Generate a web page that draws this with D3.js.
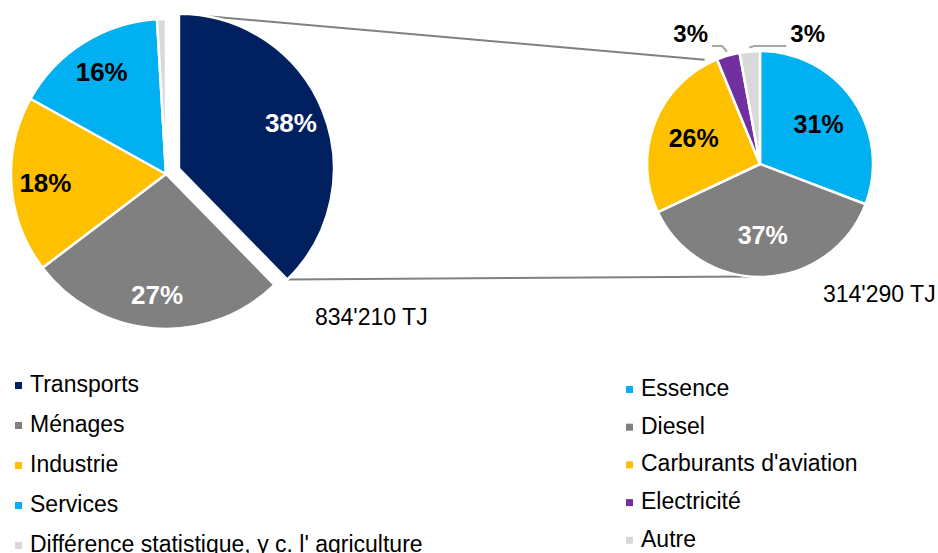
<!DOCTYPE html>
<html>
<head>
<meta charset="utf-8">
<script src="https://cdn.jsdelivr.net/npm/d3@7"></script>
<style>
	body { margin: 0; background: #fff; }
	svg { display: block; font-family: "Liberation Sans", Arial, sans-serif; }
</style>
</head>
<body>
<svg id="chart" width="938" height="553"></svg>
<script>
// final consumption by sector (TJ), left pie
const sectors = ['Transports', 'Ménages', 'Industrie', 'Services', "Différence statistique, y c. l' agriculture"];
const sectorTJ = [314290, 225200, 153500, 133500, 7720];
const sectorColors = ['#002060', '#808080', '#FFC000', '#00B0F0', '#D9D9D9'];

// transport split by fuel (%), right pie
const fuels = ['Essence', 'Diesel', "Carburants d'aviation", 'Electricité', 'Autre'];
const fuelShare = [30.8, 37.2, 25.8, 3.3, 2.9];
const fuelColors = ['#00B0F0', '#808080', '#FFC000', '#7030A0', '#D9D9D9'];

const totals = ["834'210 TJ", "314'290 TJ"];

const svg = d3.select('#chart');
const pct = d3.format('.0%');
const pt = (a, r) => [r * Math.sin(a), -r * Math.cos(a)];
const whiteLabels = ['Transports', 'Ménages', 'Diesel'];

const pie = d3.pie().sort(null).value(d => d.v).startAngle(0).endAngle(2 * Math.PI);

function makeData(names, values, colors) {
	let sum = d3.sum(values);
	return pie(names.map((n, i) => ({name: n, v: values[i], share: values[i] / sum, color: colors[i]})));
}

const left = {cx: 166, cy: 174, r: 155};
const right = {cx: 760, cy: 164, r: 113};

let leftData = makeData(sectors, sectorTJ, sectorColors);
let rightData = makeData(fuels, fuelShare, fuelColors);

// explode the Transports slice
let tr = leftData[0];
let off = pt((tr.startAngle + tr.endAngle) / 2, 14);
let trC = [left.cx + off[0], left.cy + off[1]];

// connector lines between both pies
let a1 = pt(0, left.r), a2 = pt(tr.endAngle, left.r);
let b1 = pt(-28 * Math.PI / 180, right.r + 5), b2 = pt(185 * Math.PI / 180, right.r);
svg.append('g')
	.attr('stroke', '#808080')
	.attr('stroke-width', 2)
	.selectAll('line')
	.data([[a1, b1], [a2, b2]])
	.enter()
	.append('line')
	.attr('x1', d => trC[0] + d[0][0])
	.attr('y1', d => trC[1] + d[0][1])
	.attr('x2', d => right.cx + d[1][0])
	.attr('y2', d => right.cy + d[1][1]);

function drawPie(data, c, labelR, fontSize, explodeFirst) {
	let arc = d3.arc().innerRadius(0).outerRadius(c.r);
	let g = svg.append('g').attr('transform', `translate(${c.cx},${c.cy})`);

	g.selectAll('path')
		.data(data)
		.enter()
		.append('path')
		.attr('transform', (d, i) => (explodeFirst && i === 0) ? `translate(${off[0]},${off[1]})` : null)
		.attr('d', arc)
		.attr('fill', d => d.data.color)
		.attr('stroke', '#fff')
		.attr('stroke-width', 2.5)
		.attr('stroke-linejoin', 'round');

	// inside labels
	let lab = d3.arc().innerRadius(c.r * labelR).outerRadius(c.r * labelR);
	g.selectAll('text.in')
		.data(data.filter(d => d.data.share >= 0.05))
		.enter()
		.append('text')
		.attr('class', 'in')
		.attr('transform', (d) => {
			let p = lab.centroid(d);
			if (explodeFirst && d.index === 0) { p[0] += off[0]; p[1] += off[1]; }
			return `translate(${p[0]},${p[1]})`;
		})
		.attr('text-anchor', 'middle')
		.attr('dy', '0.36em')
		.attr('font-size', fontSize)
		.attr('font-weight', 'bold')
		.attr('fill', d => whiteLabels.includes(d.data.name) ? '#fff' : '#000')
		.text(d => pct(d.data.share));
	return g;
}

drawPie(leftData, left, 0.78, 26, true);
let gr = drawPie(rightData, right, 0.63, 25, false);

// outside labels with leader lines for the small fuel slices
let small = rightData.filter(d => d.data.share < 0.05);
small.forEach((d, i) => {
	let side = i === 0 ? -1 : 1;
	let len = i === 0 ? 10 : 32;
	let p0 = pt((d.startAngle + d.endAngle) / 2, right.r + 4);
	let y1 = -right.r - 5;
	let p1 = [p0[0] + side * 5, y1];
	let p2 = [p1[0] + side * len, y1];
	gr.append('path')
		.attr('d', d3.line()([p0, p1, p2]))
		.attr('fill', 'none')
		.attr('stroke', '#a6a6a6')
		.attr('stroke-width', 2);
	gr.append('text')
		.attr('x', p2[0] + side * 4)
		.attr('y', y1 - 4)
		.attr('text-anchor', side < 0 ? 'end' : 'start')
		.attr('font-size', 24)
		.attr('font-weight', 'bold')
		.text(pct(d.data.share));
});

// totals
svg.selectAll('text.total')
	.data(totals)
	.enter()
	.append('text')
	.attr('class', 'total')
	.attr('x', (d, i) => i === 0 ? 315 : 823)
	.attr('y', (d, i) => i === 0 ? 325 : 302)
	.attr('font-size', 23)
	.text(d => d);

// legends
function legend(names, colors, x, y0, step) {
	let g = svg.append('g').attr('transform', `translate(${x},${y0})`);
	let items = g.selectAll('g')
		.data(names)
		.enter()
		.append('g')
		.attr('transform', (d, i) => `translate(0,${i * step})`);
	items.append('rect')
		.attr('x', 0)
		.attr('y', -10)
		.attr('width', 7)
		.attr('height', 7)
		.attr('fill', (d, i) => colors[i]);
	items.append('text')
		.attr('x', 15)
		.attr('font-size', 23)
		.text(d => d);
}

legend(sectors, sectorColors, 15, 392, 40);
legend(fuels, fuelColors, 626, 396, 37.7);
</script>
</body>
</html>
